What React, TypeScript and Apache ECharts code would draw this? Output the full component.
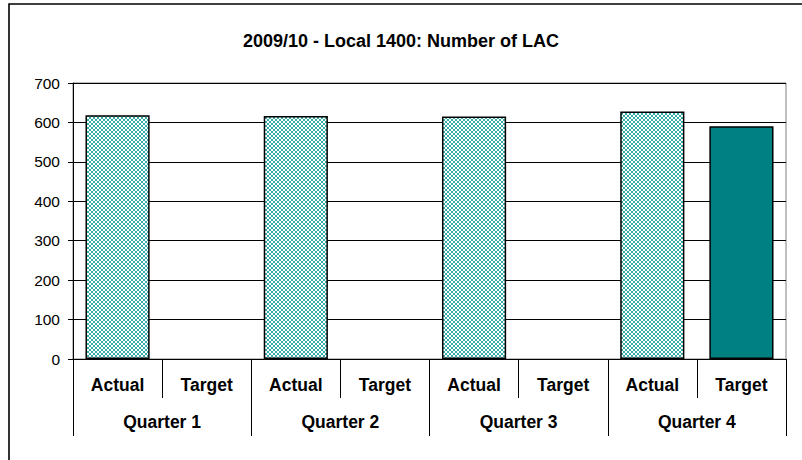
import React, { useEffect, useRef } from "react";
import * as echarts from "echarts";

const title = "2009/10 - Local 1400: Number of LAC";
const subCategories = ["Actual", "Target", "Actual", "Target", "Actual", "Target", "Actual", "Target"];
const quarters = ["Quarter 1", "Quarter 2", "Quarter 3", "Quarter 4"];
const values: (number | null)[] = [618, null, 616, null, 615, null, 628, 590];
const yTicks = { min: 0, max: 700, interval: 100 };

function makePattern(): HTMLCanvasElement {
  const c = document.createElement("canvas");
  c.width = 4;
  c.height = 4;
  const ctx = c.getContext("2d")!;
  ctx.fillStyle = "#ffffff";
  ctx.fillRect(0, 0, 4, 4);
  ctx.fillStyle = "#3aaeab";
  for (let x = 0; x < 4; x++) {
    for (let y = 0; y < 4; y++) {
      if (x === y || x + y === 3) ctx.fillRect(x, y, 1, 1);
    }
  }
  return c;
}

export default function App() {
  const ref = useRef<HTMLDivElement>(null);
  useEffect(() => {
    if (!ref.current) return;
    const chart = echarts.init(ref.current, undefined, { renderer: "svg" });
    const pattern = makePattern();
    const font = "'Liberation Sans', Arial, sans-serif";
    chart.setOption({
      animation: false,
      backgroundColor: "#ffffff",
      title: {
        text: title,
        left: "center",
        top: 27,
        textStyle: { fontFamily: font, fontSize: 18, fontWeight: "bold", color: "#000" },
      },
      graphic: [
        {
          type: "rect",
          shape: { x: 9, y: 4, width: 900, height: 600 },
          style: { fill: "none", stroke: "#000", lineWidth: 1.6 },
          silent: true,
        },
      ],
      grid: {
        left: 73,
        top: 83,
        right: 16,
        bottom: 101,
        show: true,
        borderColor: "#808080",
        borderWidth: 1,
        backgroundColor: "#ffffff",
      },
      xAxis: [
        {
          type: "category",
          data: subCategories,
          position: "bottom",
          boundaryGap: true,
          axisLine: { show: true, lineStyle: { color: "#000", width: 1 } },
          axisTick: { show: true, interval: 0, length: 39, alignWithLabel: false, lineStyle: { color: "#000" } },
          axisLabel: { interval: 0, margin: 17, fontFamily: font, fontSize: 17.5, fontWeight: "bold", color: "#000" },
          splitLine: { show: false },
        },
        {
          type: "category",
          data: quarters,
          position: "bottom",
          boundaryGap: true,
          axisLine: { show: false },
          axisTick: { show: true, interval: 0, length: 77, alignWithLabel: false, lineStyle: { color: "#000" } },
          axisLabel: { interval: 0, margin: 54, fontFamily: font, fontSize: 17.5, fontWeight: "bold", color: "#000" },
          splitLine: { show: false },
        },
      ],
      yAxis: {
        type: "value",
        min: yTicks.min,
        max: yTicks.max,
        interval: yTicks.interval,
        axisLine: { show: true, lineStyle: { color: "#000", width: 1 } },
        axisTick: { show: true, inside: false, length: 5, lineStyle: { color: "#000" } },
        axisLabel: { margin: 13, fontFamily: font, fontSize: 15.5, color: "#000" },
        splitLine: { show: true, lineStyle: { color: "#000", width: 1 } },
      },
      series: [
        {
          type: "bar",
          xAxisIndex: 0,
          barWidth: "72%",
          data: values.map((v, i) => ({
            value: v,
            itemStyle: {
              color: subCategories[i] === "Actual" ? { image: pattern, repeat: "repeat" } : "#008080",
              borderColor: "#000",
              borderWidth: 1.5,
            },
          })),
        },
      ],
    });
    return () => chart.dispose();
  }, []);
  return (
    <div
      ref={ref}
      style={{ position: "absolute", left: 0, top: 0, width: 802, height: 460 }}
    />
  );
}
